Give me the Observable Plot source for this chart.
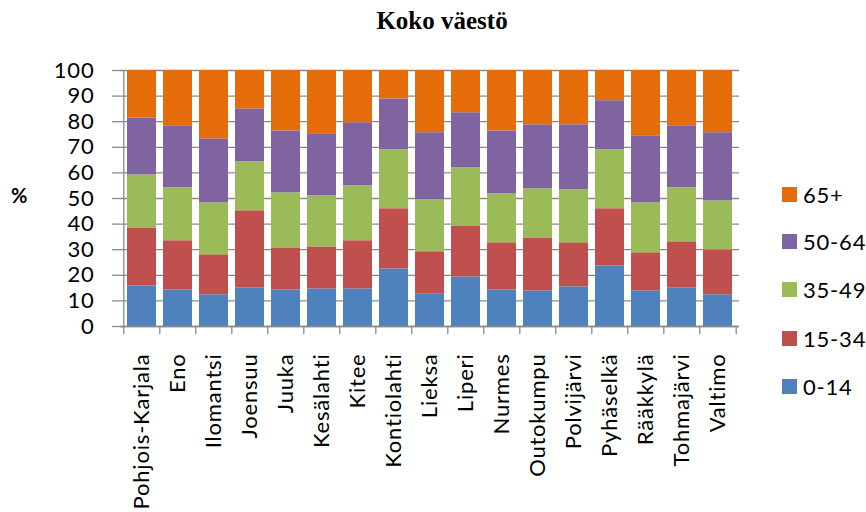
<!DOCTYPE html>
<html>
<head>
<meta charset="utf-8">
<script src="https://cdn.jsdelivr.net/npm/d3@7"></script>
<script src="https://cdn.jsdelivr.net/npm/@observablehq/plot@0.6"></script>
<style>
  html, body { margin: 0; padding: 0; background: #fff; }
  #wrap { position: relative; width: 866px; height: 512px; font-family: Lato, "Open Sans", sans-serif; }
  #title { height: 40px; text-align: center; font-family: "Liberation Serif", "DejaVu Serif", serif; font-weight: bold; font-size: 25px; line-height: 42px; color: #000; padding-left: 18px; box-sizing: border-box; }
  #ylab { position: absolute; left: 11px; top: 183px; font-weight: bold; font-size: 20px; color: #000; }
  #legend { position: absolute; left: 782px; top: 0; }
  .item { position: absolute; left: 0; height: 24px; display: flex; align-items: center; white-space: nowrap; font-size: 22px; letter-spacing: 0.8px; color: #000; }
  .sw { width: 15px; height: 15px; margin-right: 6px; }
  svg text { letter-spacing: 0.8px; }
</style>
</head>
<body>
<div id="wrap">
  <div id="title">Koko väestö</div>
  <div id="ylab">%</div>
  <div id="legend"></div>
</div>
<script>
const categories = ["Pohjois-Karjala","Eno","Ilomantsi","Joensuu","Juuka","Kesälahti","Kitee","Kontiolahti","Lieksa","Liperi","Nurmes","Outokumpu","Polvijärvi","Pyhäselkä","Rääkkylä","Tohmajärvi","Valtimo"];
const seriesNames = ["0-14","15-34","35-49","50-64","65+"];
const seriesColors = ["#4F81BD","#C0504D","#9BBB59","#8064A2","#E46C0A"];
const age0_14  = [15.8,14.3,12.4,15.0,14.3,14.7,14.7,22.5,12.8,19.4,14.3,13.9,15.5,23.7,13.9,15.1,12.4];
const age15_34 = [22.7,19.2,15.6,30.2,16.4,16.4,18.8,23.5,16.4,19.9,18.4,20.7,17.2,22.3,14.9,18.0,17.5];
const age35_49 = [20.7,20.7,20.3,19.1,21.5,19.9,21.4,23.0,20.3,22.7,19.1,19.2,20.7,23.0,19.5,21.1,19.2];
const age50_64 = [22.2,24.2,25.0,20.7,24.2,24.3,24.7,19.9,26.2,21.5,24.6,25.0,25.4,19.2,26.2,24.2,26.6];
const age65    = [18.6,21.6,26.7,15.0,23.6,24.7,20.4,11.1,24.3,16.5,23.6,21.2,21.2,11.8,25.5,21.6,24.3];
const yTicks = [0,10,20,30,40,50,60,70,80,90,100];

const seriesValues = [age0_14, age15_34, age35_49, age50_64, age65];
const data = [];
seriesNames.forEach((s, i) => categories.forEach((c, j) => data.push({cat: c, series: s, value: seriesValues[i][j]})));

const W = 866, H = 472, ML = 120, MR = 127, MT = 30, MB = 186;
const pIn = 0.2, pOut = 0.1;
const step = (W - ML - MR) / (categories.length - pIn + 2 * pOut);
const gray = "#8a8a8a";

const chart = Plot.plot({
  width: W, height: H,
  marginLeft: ML, marginRight: MR, marginTop: MT, marginBottom: MB,
  style: {fontFamily: "Lato, 'Open Sans', sans-serif", fontSize: "22px", color: "#000", background: "#fff"},
  x: {domain: categories, paddingInner: pIn, paddingOuter: pOut, label: null},
  y: {domain: [0, 100], label: null},
  color: {domain: seriesNames, range: seriesColors},
  marks: [
    Plot.gridY(yTicks, {stroke: gray, strokeOpacity: 1, strokeWidth: 1.3}),
    Plot.barY(data, {x: "cat", y: "value", fill: "series"}),
    Plot.ruleY([0], {stroke: gray, strokeWidth: 1.3}),
    Plot.ruleX([categories[0]], {x: d => d, dx: -step / 2, y1: -3.1, y2: 100, stroke: gray, strokeWidth: 1.3}),
    Plot.ruleX(categories.slice(1), {x: d => d, dx: -step / 2, y1: 0, y2: -3.1, stroke: gray, strokeWidth: 1.3}),
    Plot.ruleX([categories[categories.length - 1]], {x: d => d, dx: step / 2, y1: 0, y2: -3.1, stroke: gray, strokeWidth: 1.3}),
    Plot.axisY(yTicks, {tickSize: 8, tickPadding: 18, stroke: gray, strokeWidth: 1.3, label: null, fontSize: 22}),
    Plot.axisX({tickSize: 0, tickPadding: 27, tickRotate: -90, label: null, fontSize: 22})
  ]
});
document.getElementById("wrap").appendChild(chart);

const legend = document.getElementById("legend");
const rowTops = [182, 229.7, 277, 326, 374.7];
seriesNames.slice().reverse().forEach((s, i) => {
  const idx = seriesNames.indexOf(s);
  const item = document.createElement("div");
  item.className = "item";
  item.style.top = rowTops[i] + "px";
  const sw = document.createElement("span");
  sw.className = "sw";
  sw.style.background = seriesColors[idx];
  const t = document.createElement("span");
  t.textContent = s;
  item.appendChild(sw); item.appendChild(t);
  legend.appendChild(item);
});
</script>
</body>
</html>
